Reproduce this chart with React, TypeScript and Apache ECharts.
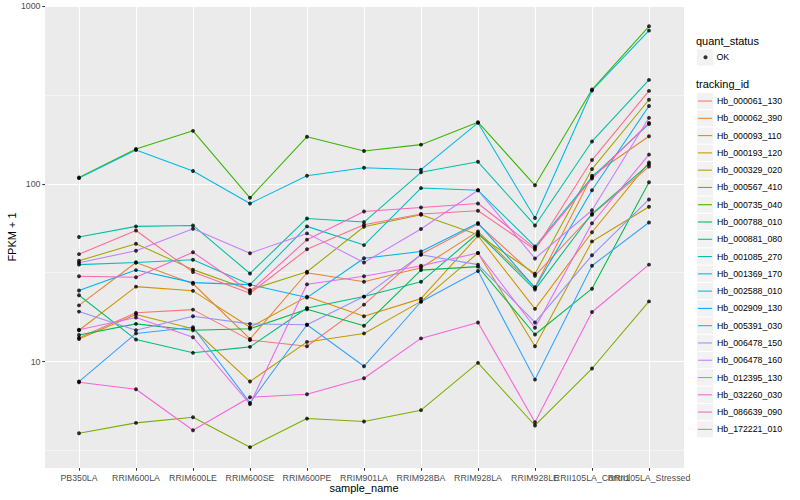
import React, { useEffect, useRef } from 'react';
import * as echarts from 'echarts';

const categories = [
  'PB350LA', 'RRIM600LA', 'RRIM600LE', 'RRIM600SE', 'RRIM600PE', 'RRIM901LA',
  'RRIM928BA', 'RRIM928LA', 'RRIM928LE', 'RRII105LA_Control', 'RRII105LA_Stressed',
];

const trackingIds = [
  'Hb_000061_130', 'Hb_000062_390', 'Hb_000093_110', 'Hb_000193_120', 'Hb_000329_020',
  'Hb_000567_410', 'Hb_000735_040', 'Hb_000788_010', 'Hb_000881_080', 'Hb_001085_270',
  'Hb_001369_170', 'Hb_002588_010', 'Hb_002909_130', 'Hb_005391_030', 'Hb_006478_150',
  'Hb_006478_160', 'Hb_012395_130', 'Hb_032260_030', 'Hb_086639_090', 'Hb_172221_010',
];

const trackingColors = [
  '#F8766D', '#EA8331', '#D89000', '#C09B00', '#A3A500', '#7CAE00', '#39B600', '#00BB4E',
  '#00BF7D', '#00C1A3', '#00BFC4', '#00BAE0', '#00B0F6', '#35A2FF', '#9590FF', '#C77CFF',
  '#E76BF3', '#FA62DB', '#FF62BC', '#FF6C91',
];

// FPKM + 1 per sample, in the order of `categories`
const hb000061_130 = [13.6, 18.8, 19.6, 13.2, 12.2, 20.9, 40.1, 59.4, 30.4, 67.0, 125];
const hb000062_390 = [20.7, 36.1, 27.4, 13.4, 31.6, 28.1, 33.7, 54.0, 26.2, 111, 185];
const hb000093_110 = [15.0, 26.4, 25.0, 15.6, 23.2, 18.0, 22.6, 51.0, 19.8, 53.4, 132];
const hb000193_120 = [13.4, 18.4, 15.3, 7.72, 12.9, 14.4, 21.8, 40.8, 12.2, 47.4, 74.3];
const hb000329_020 = [36.9, 46.0, 32.9, 25.3, 32.0, 57.3, 67.0, 51.7, 31.2, 121, 297];
const hb000567_410 = [3.95, 4.52, 4.86, 3.30, 4.78, 4.60, 5.33, 9.84, 4.37, 9.14, 21.8];
const hb000735_040 = [108.5, 157, 198.5, 83.4, 184, 153, 166, 222, 98.1, 339, 769];
const hb000788_010 = [14.1, 16.3, 15.0, 15.3, 19.7, 15.9, 32.7, 34.2, 14.2, 25.7, 102];
const hb000881_080 = [23.6, 13.3, 11.2, 12.1, 20.0, 23.2, 28.1, 52.7, 25.4, 67.8, 129];
const hb001085_270 = [50.2, 57.6, 58.3, 31.3, 63.8, 60.9, 116, 133, 58.3, 173, 384];
const hb001369_170 = [35.1, 36.1, 37.4, 27.1, 57.6, 45.2, 94.6, 91.9, 44.4, 109, 217];
const hb002588_010 = [107.6, 155, 118, 77.5, 111, 123, 120, 220, 64.2, 335, 727];
const hb002909_130 = [25.1, 32.7, 27.8, 27.1, 22.9, 38.1, 41.6, 60.2, 26.0, 91.9, 274];
const hb005391_030 = [7.72, 14.4, 15.6, 5.86, 16.1, 9.41, 21.7, 32.3, 7.92, 34.6, 60.6];
const hb006478_150 = [19.1, 15.0, 18.0, 16.3, 16.1, 23.2, 39.9, 35.1, 16.6, 39.6, 81.6];
const hb006478_160 = [36.0, 42.0, 55.9, 40.7, 52.6, 36.1, 55.7, 91.9, 38.0, 71.0, 235];
const hb012395_130 = [15.1, 17.7, 13.7, 5.76, 27.2, 30.2, 34.6, 40.8, 15.5, 60.0, 146];
const hb032260_030 = [7.65, 6.99, 4.11, 6.30, 6.55, 8.06, 13.5, 16.6, 4.56, 19.0, 35.1];
const hb086639_090 = [30.2, 29.8, 41.2, 24.8, 48.5, 69.9, 73.6, 77.5, 43.5, 107, 220];
const hb172221_010 = [40.2, 54.6, 31.9, 24.2, 42.8, 58.8, 67.6, 70.5, 42.6, 136, 333];

const seriesValues = [
  hb000061_130, hb000062_390, hb000093_110, hb000193_120, hb000329_020,
  hb000567_410, hb000735_040, hb000788_010, hb000881_080, hb001085_270,
  hb001369_170, hb002588_010, hb002909_130, hb005391_030, hb006478_150,
  hb006478_160, hb012395_130, hb032260_030, hb086639_090, hb172221_010,
];

const yMajorBreaks = [10, 100, 1000];
const yMinorBreaks = [3.162, 31.62, 316.2];
const yMin = 2.52;
const yMax = 1000;
const quantStatus = ['OK'];

export default function App() {
  const ref = useRef<HTMLDivElement>(null);

  useEffect(() => {
    if (!ref.current) return;
    const chart = echarts.init(ref.current, null, { renderer: 'svg' });
    const font = '"Liberation Sans", Arial, Helvetica, sans-serif';

    const lineSeries = trackingIds.map((id, i) => ({
      name: id,
      type: 'line',
      xAxisIndex: 0,
      yAxisIndex: 0,
      data: seriesValues[i],
      symbol: 'none',
      showSymbol: false,
      lineStyle: { color: trackingColors[i], width: 1.07 },
      itemStyle: { color: trackingColors[i] },
      z: 2,
      silent: true,
      emphasis: { disabled: true },
    }));

    const pointData: any[] = [];
    seriesValues.forEach((vals) => vals.forEach((v, j) => pointData.push([categories[j], v])));

    const markLineBase = {
      silent: true,
      z: 1,
      symbol: ['none', 'none'],
      label: { show: false },
      animation: false,
      emphasis: { disabled: true },
      lineStyle: { color: '#FFFFFF', width: 1.07, type: 'solid', opacity: 1 },
    };

    const keyGraphics: any[] = [];
    keyGraphics.push({
      type: 'rect', silent: true, z: 0,
      shape: { x: 697, y: 49.3, width: 16.2, height: 16.2 },
      style: { fill: '#F2F2F2' },
    });
    trackingIds.forEach((_, i) => {
      keyGraphics.push({
        type: 'rect', silent: true, z: 0,
        shape: { x: 697, y: 101 - 8.1 + 17.28 * i, width: 16.2, height: 16.2 },
        style: { fill: '#F2F2F2' },
      });
    });
    keyGraphics.push({
      type: 'text', x: 696, y: 40.7, silent: true,
      style: { text: 'quant_status', fontSize: 11, fontFamily: font, fill: '#000000', verticalAlign: 'middle', align: 'left' },
    });
    keyGraphics.push({
      type: 'text', x: 696, y: 84.3, silent: true,
      style: { text: 'tracking_id', fontSize: 11, fontFamily: font, fill: '#000000', verticalAlign: 'middle', align: 'left' },
    });

    const option: any = {
      animation: false,
      backgroundColor: '#FFFFFF',
      textStyle: { fontFamily: font },
      grid: [
        { left: 50.5, right: 122.5, top: 6, bottom: 32, show: false, containLabel: false, outerBoundsMode: 'none' },
        { left: 45, right: 116, top: 6, bottom: 32, show: true, backgroundColor: '#EBEBEB', borderWidth: 0, containLabel: false, outerBoundsMode: 'none' },
      ],
      xAxis: [
        {
          type: 'category',
          gridIndex: 0,
          data: categories,
          boundaryGap: true,
          axisLine: { show: false },
          axisTick: { show: true, alignWithLabel: true, interval: 0, length: 2.75, lineStyle: { color: '#333333', width: 1.07 } },
          axisLabel: { interval: 0, hideOverlap: false, margin: 5, fontSize: 8.8, color: '#4D4D4D', fontFamily: font },
          splitLine: { show: false },
          name: 'sample_name',
          nameLocation: 'middle',
          nameGap: 14.5,
          nameMoveOverlap: false,
          nameTextStyle: { fontSize: 11, color: '#000000', fontFamily: font },
        },
        { type: 'value', gridIndex: 1, min: 0, max: 1, show: false },
      ],
      yAxis: [
        {
          type: 'log',
          logBase: 10,
          gridIndex: 0,
          min: yMin,
          max: yMax,
          offset: 5.5,
          axisLine: { show: false },
          axisTick: { show: true, length: 2.75, lineStyle: { color: '#333333', width: 1.07 } },
          axisLabel: {
            margin: 4.5, fontSize: 8.8, color: '#4D4D4D', fontFamily: font,
            showMinLabel: false, showMaxLabel: true,
            formatter: (v: number) => String(v),
          },
          splitLine: { show: false },
          minorTick: { show: false },
          minorSplitLine: { show: false },
          name: 'FPKM + 1',
          nameLocation: 'middle',
          nameRotate: 90,
          nameGap: 27.5,
          nameMoveOverlap: false,
          nameTextStyle: { fontSize: 11, color: '#000000', fontFamily: font },
        },
        { type: 'log', logBase: 10, gridIndex: 1, min: yMin, max: yMax, show: false },
      ],
      legend: [
        {
          orient: 'vertical', left: 703.5, top: 52.3, padding: 0,
          itemWidth: 4, itemHeight: 4, icon: 'circle',
          data: quantStatus, selectedMode: false,
          textStyle: { fontSize: 8.8, lineHeight: 10, color: '#000000', fontFamily: font, padding: [0, 0, 0, 4] },
        },
        {
          orient: 'vertical', left: 698, top: 92.4, padding: 0,
          itemWidth: 14, itemHeight: 1.07, itemGap: 0, icon: 'rect',
          data: trackingIds, selectedMode: false,
          textStyle: { fontSize: 8.8, lineHeight: 17.28, color: '#000000', fontFamily: font },
        },
      ],
      graphic: keyGraphics,
      series: [
        {
          type: 'line', name: 'vgrid', xAxisIndex: 0, yAxisIndex: 0, data: [], silent: true, z: 1,
          markLine: { ...markLineBase, data: categories.map((c) => ({ xAxis: c })) },
        },
        {
          type: 'line', name: 'hgrid', xAxisIndex: 1, yAxisIndex: 1, data: [], silent: true, z: 1,
          markLine: {
            ...markLineBase,
            data: [
              ...yMinorBreaks.map((v) => ({ yAxis: v, lineStyle: { color: '#FFFFFF', width: 0.53, type: 'solid' } })),
              ...yMajorBreaks.map((v) => ({ yAxis: v })),
            ],
          },
        },
        ...lineSeries,
        {
          name: 'OK',
          type: 'scatter',
          xAxisIndex: 0,
          yAxisIndex: 0,
          data: pointData,
          symbol: 'circle',
          symbolSize: 3.9,
          itemStyle: { color: '#000000' },
          z: 3,
          silent: true,
          emphasis: { disabled: true },
        },
      ],
    };

    chart.setOption(option);
    return () => chart.dispose();
  }, []);

  return <div ref={ref} style={{ position: 'absolute', left: 0, top: 0, width: 800, height: 500 }} />;
}
